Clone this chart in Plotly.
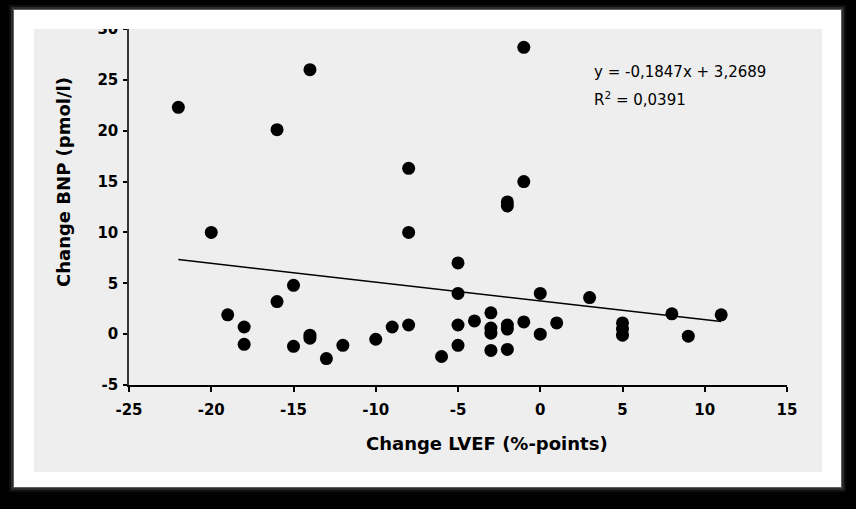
import plotly.graph_objects as go

# Change LVEF (%-points) vs change BNP (pmol/l)
lvef = [-22, -14, -16, -8, -20, -8,
        -15, -16, -19, -18, -18, -15, -14, -14, -13, -12, -10, -9, -8,
        -5, -5, -5, -5, -6, -4, -3, -3, -3, -3, -2, -2, -2, -1,
        0, 0, 1, 3, 5, 5, 5, 8, 9, 11,
        -2, -2, -1, -1]
bnp = [22.3, 26.0, 20.1, 16.3, 10.0, 10.0,
       4.8, 3.2, 1.9, 0.7, -1.0, -1.2, -0.1, -0.4, -2.4, -1.1, -0.5, 0.7, 0.9,
       7.0, 4.0, 0.9, -1.1, -2.2, 1.3, 2.1, 0.6, 0.1, -1.6, 0.9, 0.5, -1.5, 1.2,
       4.0, 0.0, 1.1, 3.6, 1.1, 0.5, -0.1, 2.0, -0.2, 1.9,
       13.0, 12.6, 15.0, 28.2]

# linear trendline as printed on the chart
slope = -0.1847
intercept = 3.2689
trend_x = [min(lvef), max(lvef)]
trend_y = [slope * v + intercept for v in trend_x]

x_ticks = [-25, -20, -15, -10, -5, 0, 5, 10, 15]
y_ticks = [-5, 0, 5, 10, 15, 20, 25, 30]

W, H = 856, 509
L, R, T, B = 129, 787, 29, 385


def px(x):
    return (x - L) / (R - L)


def py(y):
    return (B - y) / (B - T)


fig = go.Figure()

fig.add_trace(go.Scatter(
    x=trend_x, y=trend_y, mode="lines",
    line=dict(color="black", width=1.5),
    showlegend=False, hoverinfo="skip"
))

fig.add_trace(go.Scatter(
    x=lvef, y=bnp, mode="markers",
    marker=dict(size=13, color="black"),
    showlegend=False
))

shapes = []
# soft glow round the white card
for pad, op in [(5, 0.06), (3, 0.12), (1, 0.25)]:
    shapes.append(dict(type="rect", xref="paper", yref="paper", layer="below",
                       x0=px(14 - pad), x1=px(841 + pad), y0=py(487 + pad), y1=py(10 - pad),
                       fillcolor="rgba(255,255,255,%s)" % op, line_width=0))
shapes.append(dict(type="rect", xref="paper", yref="paper", layer="below",
                   x0=px(14), x1=px(841), y0=py(487), y1=py(10),
                   fillcolor="white", line_width=0))
shapes.append(dict(type="rect", xref="paper", yref="paper", layer="below",
                   x0=px(34), x1=px(822), y0=py(472), y1=py(29),
                   fillcolor="#eeeeee", line_width=0))
# white band on top clips the "30" label like in the original
shapes.append(dict(type="rect", xref="paper", yref="paper", layer="above",
                   x0=px(14), x1=px(841), y0=py(29), y1=py(10),
                   fillcolor="white", line_width=0))

bold = dict(family="DejaVu Sans", size=18, color="black", weight="bold")
plain = dict(family="DejaVu Sans", size=15, color="black", weight="normal")

annotations = [
    dict(text="Change LVEF (%-points)", xref="paper", yref="paper",
         x=px(487), y=py(444), xanchor="center", yanchor="middle",
         showarrow=False, font=bold),
    dict(text="Change BNP (pmol/l)", xref="paper", yref="paper",
         x=px(63), y=py(182), xanchor="center", yanchor="middle",
         showarrow=False, textangle=-90, font=bold),
    dict(text="y = -0,1847x + 3,2689", xref="paper", yref="paper",
         x=px(592), y=py(72), xanchor="left", yanchor="middle",
         showarrow=False, font=plain),
    dict(text="R<sup>2</sup> = 0,0391", xref="paper", yref="paper",
         x=px(592), y=py(99), xanchor="left", yanchor="middle",
         showarrow=False, font=plain),
]

tickfont = dict(family="DejaVu Sans", size=15, color="black", weight="bold")

fig.update_layout(
    width=W, height=H,
    margin=dict(l=L, r=W - R, t=T, b=H - B),
    paper_bgcolor="black",
    plot_bgcolor="#eeeeee",
    shapes=shapes,
    annotations=annotations,
    font=dict(family="DejaVu Sans", size=14, color="black"),
)

fig.update_xaxes(
    range=[-25, 15], tickvals=x_ticks, ticktext=[str(v) for v in x_ticks],
    showgrid=False, zeroline=False,
    showline=True, linecolor="black", linewidth=2,
    ticks="outside", ticklen=5, tickwidth=1.5, tickcolor="black",
    ticklabelstandoff=5,
    tickfont=tickfont,
)
fig.update_yaxes(
    range=[-5, 30], tickvals=y_ticks, ticktext=[str(v) for v in y_ticks],
    showgrid=False, zeroline=False,
    showline=True, linecolor="#333333", linewidth=1.5,
    ticks="outside", ticklen=4, tickwidth=1.5, tickcolor="black",
    ticklabelstandoff=2,
    tickfont=tickfont,
)

# drop the browser's default body margin so the figure sits at 0,0
fig.write_html("out.html", config={"displayModeBar": False},
               post_script="document.body.style.margin='0';")
